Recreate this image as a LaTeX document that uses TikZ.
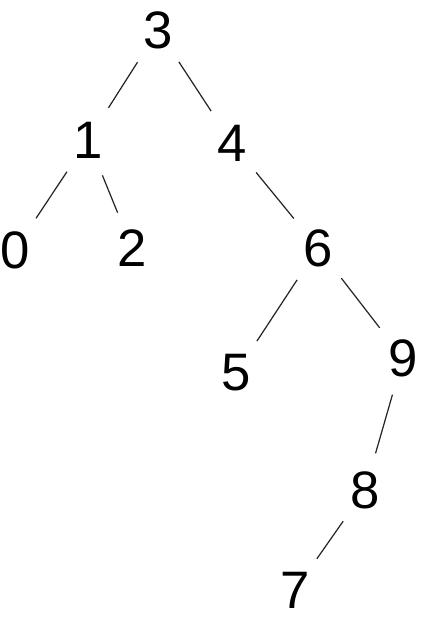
\documentclass[tikz,border=0pt]{standalone}
\usepackage{fontspec}
\setmainfont{Liberation Sans}
\usetikzlibrary{positioning}

\begin{document}
\begin{tikzpicture}[
  key/.style={circle, inner sep=0pt, minimum size=1.3cm,
    font=\fontsize{30}{32}\selectfont},
  edge/.style={line width=0.7pt, black!85, shorten >=3pt, shorten <=3pt},
]
  \useasboundingbox (0,0) rectangle (8.5,-12.42);

  %% Keys of the tree
  \node[key] (k3) at (3.16,-0.60) {3};
  \node[key] (k1) at (1.76,-2.80) {1};
  \node[key] (k4) at (4.64,-2.86) {4};
  \node[key] (k0) at (0.30,-5.00) {0};
  \node[key] (k2) at (2.64,-4.96) {2};
  \node[key] (k6) at (6.36,-4.96) {6};
  \node[key] (k5) at (4.72,-7.46) {5};
  \node[key] (k9) at (8.06,-7.16) {9};
  \node[key] (k8) at (7.30,-9.80) {8};
  \node[key] (k7) at (5.90,-11.80) {7};

  %% Links
  \draw[edge] (k3) -- (k1);
  \draw[edge] (k3) -- (k4);
  \draw[edge] (k1) -- (k0);
  \draw[edge] (k1) -- (k2);
  \draw[edge] (k4) -- (k6);
  \draw[edge] (k6) -- (k5);
  \draw[edge] (k6) -- (k9);
  \draw[edge] (k9) -- (k8);
  \draw[edge] (k8) -- (k7);
\end{tikzpicture}
\end{document}
